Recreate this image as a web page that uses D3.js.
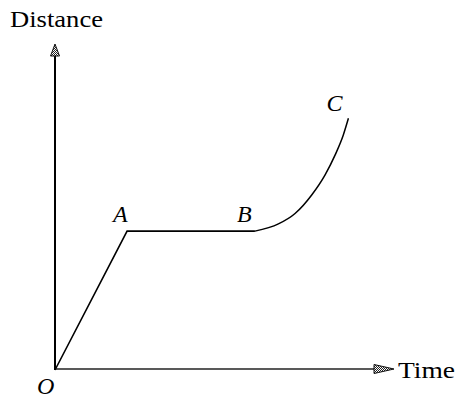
<!DOCTYPE html>
<html><head><meta charset="utf-8">
<script src="https://cdn.jsdelivr.net/npm/d3@7"></script>
<style>html,body{margin:0;padding:0;background:#fff;}svg{display:block;}</style>
</head><body>
<script>
// Data (arbitrary units)
const straightPath = [ {t:0, d:0}, {t:2.12, d:4.26}, {t:5.88, d:4.26} ];
const curvePath = [ {t:5.88,d:4.26},{t:6.57,d:4.48},{t:7.06,d:4.80},{t:7.55,d:5.37},{t:7.94,d:5.98},{t:8.24,d:6.60},{t:8.48,d:7.21},{t:8.63,d:7.72} ];
const pointLabels = ["O","A","B","C"];
const axisTitles = ["Distance","Time"];

const W=462,H=402;
const svg=d3.select("body").append("svg").attr("width",W).attr("height",H);
const x=d3.scaleLinear().domain([0,10]).range([55,395]);
const y=d3.scaleLinear().domain([0,10]).range([370,44]);

// axes
svg.append("line").attr("x1",x(0)).attr("y1",y(0)).attr("x2",x(0)).attr("y2",y(0)-315)
  .attr("stroke","#000").attr("stroke-width",2);
svg.append("line").attr("x1",x(0)).attr("y1",y(0)-1).attr("x2",x(0)+322).attr("y2",y(0)-1)
  .attr("stroke","#222").attr("stroke-width",1.6);

// arrowheads
const defs=svg.append("defs");
const pat=defs.append("pattern").attr("id","hatch").attr("width",2).attr("height",2).attr("patternUnits","userSpaceOnUse");
pat.append("rect").attr("width",2).attr("height",2).attr("fill","#fff");
pat.append("rect").attr("width",1).attr("height",1).attr("fill","#222");
pat.append("rect").attr("x",1).attr("y",1).attr("width",1).attr("height",1).attr("fill","#222");
const ax=x(0), yTop=44;
svg.append("path").attr("d",`M${ax},${yTop} L${ax+4.5},${yTop+12} L${ax-4.5},${yTop+12} Z`)
  .attr("fill","url(#hatch)").attr("stroke","#111").attr("stroke-width",1);
const xr=394, yx=y(0)-1;
svg.append("path").attr("d",`M${xr},${yx} L${xr-20},${yx-4.5} L${xr-20},${yx+4.5} Z`)
  .attr("fill","url(#hatch)").attr("stroke","#111").attr("stroke-width",1);

// lines
svg.append("path").datum(straightPath)
  .attr("d",d3.line().x(d=>x(d.t)).y(d=>y(d.d)))
  .attr("fill","none").attr("stroke","#000").attr("stroke-width",1.6);
svg.append("path").datum(curvePath)
  .attr("d",d3.line().x(d=>x(d.t)).y(d=>y(d.d)).curve(d3.curveMonotoneX))
  .attr("fill","none").attr("stroke","#000").attr("stroke-width",1.5);

// labels
const font="'Liberation Serif','Times New Roman',serif";
svg.append("text").attr("x",10).attr("y",27).text(axisTitles[0])
  .attr("font-family",font).attr("font-size",23).attr("fill","#000")
  .attr("textLength",93).attr("lengthAdjust","spacingAndGlyphs");
svg.append("text").attr("x",398).attr("y",378).text(axisTitles[1])
  .attr("font-family",font).attr("font-size",23).attr("fill","#000")
  .attr("textLength",57).attr("lengthAdjust","spacingAndGlyphs");
const lab=[{p:straightPath[0],dx:-18,dy:24},{p:straightPath[1],dx:-14,dy:-9},{p:straightPath[2],dx:-18,dy:-9},{p:curvePath[curvePath.length-1],dx:-22,dy:-7}];
lab.forEach((l,i)=>{
  svg.append("text").attr("x",x(l.p.t)+l.dx).attr("y",y(l.p.d)+l.dy).text(pointLabels[i])
    .attr("font-family",font).attr("font-style","italic").attr("font-size",24).attr("fill","#000");
});
</script>
</body></html>
